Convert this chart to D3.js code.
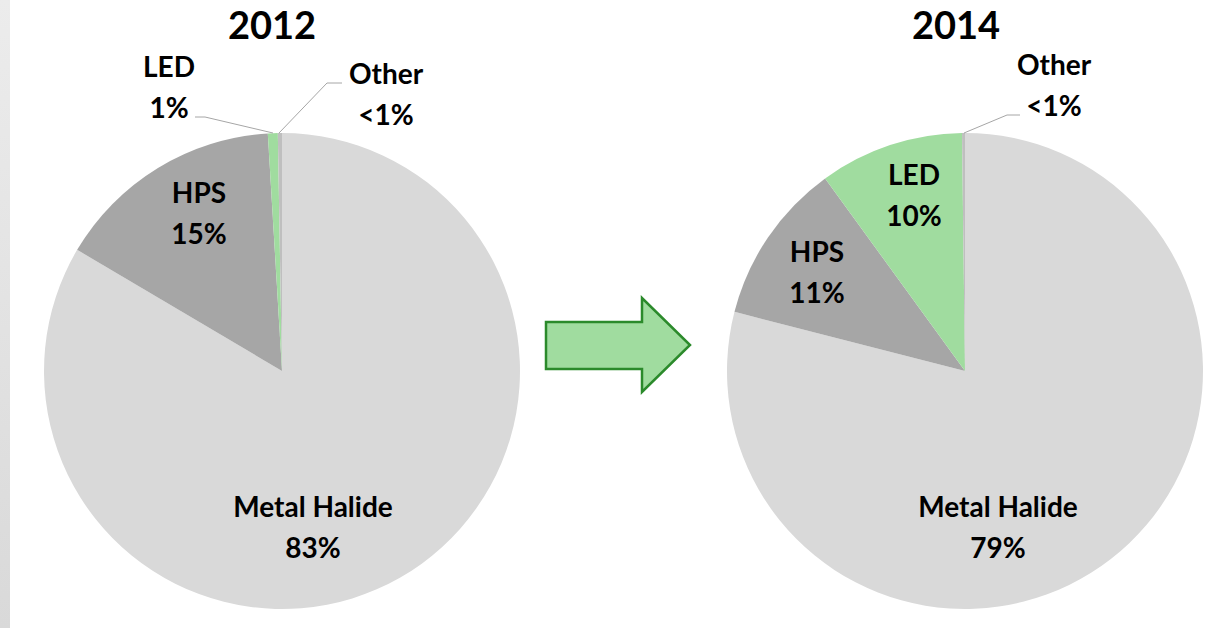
<!DOCTYPE html>
<html>
<head>
<meta charset="utf-8">
<script src="https://cdn.jsdelivr.net/npm/d3@7"></script>
<style>
  html, body { margin: 0; padding: 0; background: #fff; }
  svg text { font-family: Lato, "Open Sans", sans-serif; font-weight: bold; fill: #000; }
</style>
</head>
<body>
<svg width="1214" height="628"></svg>
<script>
// Data
const categories = ["Metal Halide", "HPS", "LED", "Other"];
const years = ["2012", "2014"];
const shares2012 = [83.5, 15.55, 0.67, 0.28];
const shares2014 = [79.0, 11.0, 9.8, 0.2];
const labels2012 = ["83%", "15%", "1%", "<1%"];
const labels2014 = ["79%", "11%", "10%", "<1%"];
const colors = ["#d9d9d9", "#a6a6a6", "#a0dc9f", "#bfbfbf"];

const width = 1214, height = 628;
const svg = d3.select("svg");

// grey strip at left edge
const grad = svg.append("defs").append("linearGradient")
    .attr("id", "strip").attr("x1", 0).attr("x2", 0).attr("y1", 0).attr("y2", 1);
grad.append("stop").attr("offset", "0%").attr("stop-color", "#ececec");
grad.append("stop").attr("offset", "100%").attr("stop-color", "#d9d9d9");
svg.append("rect").attr("x", 0).attr("y", 0).attr("width", 10).attr("height", height)
    .attr("fill", "url(#strip)");

const radius = 238;
const pie = d3.pie().sort(null).value(d => d.value);
const arc = d3.arc().innerRadius(0).outerRadius(radius);

// layout of each chart (label spots follow the original placement)
const charts = [
  { year: years[0], shares: shares2012, labels: labels2012, cx: 282, cy: 371, titleX: 272,
    spots: [[313, 517], [199, 203], [169, 77], [386, 84]],
    leaders: [null, null, [[195, 117], [205, 117], [273, 133]], [[279, 133], [327, 83], [342, 83]]] },
  { year: years[1], shares: shares2014, labels: labels2014, cx: 965, cy: 371, titleX: 956,
    spots: [[998, 517], [817, 262], [914, 185], [1054, 75]],
    leaders: [null, null, null, [[964, 133], [1007, 115], [1020, 115]]] }
];

charts.forEach(c => {
  const data = categories.map((k, i) => ({ key: k, value: c.shares[i], label: c.labels[i], i: i }));
  const g = svg.append("g").attr("transform", "translate(" + c.cx + "," + c.cy + ")");
  g.selectAll("path")
    .data(pie(data))
    .join("path")
    .attr("d", arc)
    .attr("fill", d => colors[d.data.i]);

  svg.append("text")
    .attr("x", c.titleX).attr("y", 39)
    .attr("text-anchor", "middle")
    .style("font-size", "38px")
    .text(c.year);

  // leader lines
  c.leaders.forEach(pts => {
    if (!pts) return;
    svg.append("path")
      .attr("d", d3.line()(pts))
      .attr("fill", "none")
      .attr("stroke", "#a6a6a6")
      .attr("stroke-width", 1);
  });

  data.forEach((d, i) => {
    const t = svg.append("text")
      .attr("text-anchor", "middle")
      .style("font-size", "28px");
    t.append("tspan").attr("x", c.spots[i][0]).attr("y", c.spots[i][1]).text(d.key);
    t.append("tspan").attr("x", c.spots[i][0]).attr("y", c.spots[i][1] + 41).text(d.label);
  });
});

// arrow between the two pies
const arrowPts = [[546, 322], [642, 322], [642, 298], [690, 345], [642, 392], [642, 369], [546, 369]];
svg.append("path")
  .attr("d", d3.line()(arrowPts) + "Z")
  .attr("fill", "#a0dc9f")
  .attr("stroke", "#2b8a2b")
  .attr("stroke-width", 2.5)
  .attr("stroke-linejoin", "miter");
</script>
</body>
</html>
